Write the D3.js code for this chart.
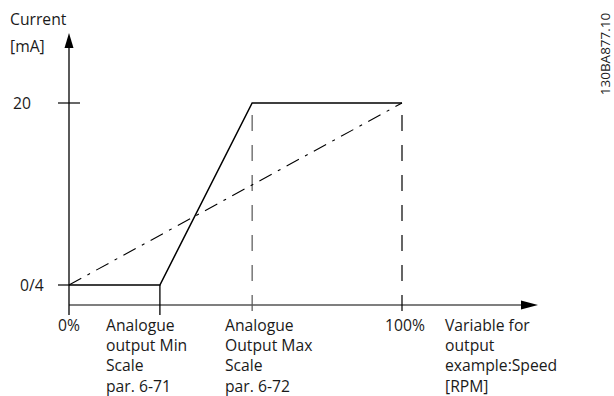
<!DOCTYPE html>
<html><head><meta charset="utf-8">
<script src="https://cdn.jsdelivr.net/npm/d3@7"></script>
<style>body{margin:0;background:#fff}svg{display:block}text{font-family:"Open Sans",sans-serif;fill:#1a1a1a}</style>
</head><body><svg id="c" width="614" height="396"></svg>
<script>
// x positions in % of variable, y values in mA
const xMarks = [0, 27.3, 55, 100];
const xLabels = [["0%"], ["Analogue","output Min","Scale","par. 6-71"], ["Analogue","Output Max","Scale","par. 6-72"], ["100%"]];
const xAxisTitle = ["Variable for","output","example:Speed","[RPM]"];
const yTicks = [4, 20];
const yTickLabels = ["0/4", "20"];
const yAxisTitle = ["Current","[mA]"];
const outputCurve = [[0,4],[27.3,4],[55,20],[100,20]];
const linearRef = [[0,4],[100,20]];
const docId = "130BA877.10";

const svg = d3.select("#c");
const x = d3.scaleLinear().domain([0,100]).range([69,402]);
const y = d3.scaleLinear().domain([4,20]).range([285,103]);
const xEnd = x.invert(538), yTop = y.invert(33), yBase = y.invert(305), yBelow = y.invert(315);
const fs = 15.7;

// x axis
svg.append("line").attr("x1",x(0)).attr("x2",x(xEnd)-10).attr("y1",y(yBase)).attr("y2",y(yBase))
  .attr("stroke","#555").attr("stroke-width",1.6);
svg.append("path").attr("d",`M${x(xEnd)},${y(yBase)} L${x(xEnd)-17},${y(yBase)-4.5} L${x(xEnd)-17},${y(yBase)+4.5}Z`).attr("fill","#000");
// y axis
svg.append("line").attr("x1",x(0)).attr("x2",x(0)).attr("y1",y(yBelow)).attr("y2",y(yTop)+10)
  .attr("stroke","#000").attr("stroke-width",1.3);
svg.append("path").attr("d",`M${x(0)},${y(yTop)} L${x(0)-4.5},${y(yTop)+15} L${x(0)+4.5},${y(yTop)+15}Z`).attr("fill","#000");

// y ticks
yTicks.forEach((t,i)=>{
  svg.append("line").attr("x1",x(0)-11).attr("x2",i===1?x(0)+11:x(0)).attr("y1",y(t)).attr("y2",y(t)).attr("stroke","#000").attr("stroke-width",1.2);
  svg.append("text").attr("x",i===1?13:20).attr("y",y(t)+6).attr("font-size",fs).text(yTickLabels[i]);
});
// y title
yAxisTitle.forEach((s,i)=>svg.append("text").attr("x",10).attr("y",25+i*27).attr("font-size",fs).text(s));

// vertical markers
svg.append("line").attr("x1",x(xMarks[1])).attr("x2",x(xMarks[1])).attr("y1",y(4)).attr("y2",y(yBelow)).attr("stroke","#000").attr("stroke-width",1.3);
[2,3].forEach((k,j)=>{
  svg.append("line").attr("x1",x(xMarks[k])).attr("x2",x(xMarks[k])).attr("y1",y(20)+12).attr("y2",y(yBelow))
    .attr("stroke",j===0?"#555":"#000").attr("stroke-width",1.2).attr("stroke-dasharray","16,14");
});

// curves
const line = d3.line().x(d=>x(d[0])).y(d=>y(d[1]));
svg.append("path").attr("d",line(linearRef)).attr("fill","none").attr("stroke","#000").attr("stroke-width",1.1).attr("stroke-dasharray","14,7,3,7");
svg.append("path").attr("d",line(outputCurve)).attr("fill","none").attr("stroke","#000").attr("stroke-width",1.5);

// x labels
const lh = 20.2, by = 331;
svg.append("text").attr("x",x(0)).attr("y",by).attr("font-size",fs).attr("text-anchor","middle").text(xLabels[0][0]);
svg.append("text").attr("x",x(100)+3).attr("y",by).attr("font-size",fs).attr("text-anchor","middle").text(xLabels[3][0]);
[[1,106],[2,225]].forEach(([k,px])=>{
  xLabels[k].forEach((s,i)=>svg.append("text").attr("x",px).attr("y",by+i*lh).attr("font-size",fs).text(s));
});
xAxisTitle.forEach((s,i)=>svg.append("text").attr("x",445).attr("y",by+i*lh).attr("font-size",fs).text(s));

// doc id
svg.append("text").attr("transform","translate(610,54) rotate(-90)").attr("text-anchor","middle").attr("font-size",13.5).attr("font-family","Liberation Sans, Arial, sans-serif").text(docId);
</script></body></html>
